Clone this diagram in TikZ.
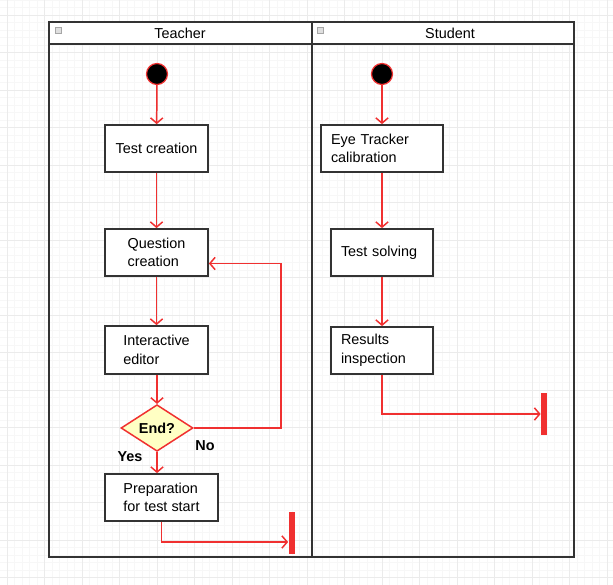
\documentclass[tikz,border=0pt]{standalone}
\usepackage{fontspec}
\setmainfont{Liberation Sans}
\usetikzlibrary{shapes.geometric,arrows.meta}
\definecolor{flowred}{HTML}{F03030}
\definecolor{boxgray}{HTML}{333333}
\definecolor{guardfill}{HTML}{FFFFC4}
\tikzset{
	flow/.style={draw=flowred, line width=0.85pt, -{Straight Barb[length=3pt,width=7pt]}},
	activity/.style={draw=boxgray, line width=1pt, fill=white, inner sep=0pt, minimum height=0.94cm, align=left, font=\fontsize{8.2}{10.6}\selectfont},
	leftact/.style={activity, inner xsep=0.2cm, text width=#1},
	startdot/.style={circle, draw=flowred, line width=0.7pt, fill=black, minimum size=0.42cm, inner sep=0pt},
	endbar/.style={rectangle, fill=flowred, minimum width=0.12cm, minimum height=0.84cm, inner sep=0pt},
	decision/.style={diamond, draw=flowred, line width=0.85pt, fill=guardfill, minimum width=1.44cm, minimum height=0.72cm, inner sep=0pt, font=\fontsize{8.2}{10}\selectfont\bfseries},
	guard/.style={font=\fontsize{8.2}{10}\selectfont\bfseries, inner sep=0pt},
	lanetitle/.style={font=\fontsize{8.2}{10}\selectfont, inner sep=0pt},
	lane/.style={draw=boxgray, line width=1pt},
}

\begin{document}
\begin{tikzpicture}[x=0.02cm, y=-0.02cm]
				\useasboundingbox (0,0) rectangle (613,585);
				\fill[white] (0,0) rectangle (613,585);
				
				% background grid
				\foreach \gx in {-0.5,7,...,613} \draw[gray!6, line width=0.3pt] (\gx,0) -- (\gx,585);
				\foreach \gy in {0,7.5,...,585} \draw[gray!6, line width=0.3pt] (0,\gy) -- (613,\gy);
				\foreach \gx in {7,44.5,...,613} \draw[gray!16, line width=0.4pt] (\gx,0) -- (\gx,585);
				\foreach \gy in {15,52.5,...,585} \draw[gray!16, line width=0.4pt] (0,\gy) -- (613,\gy);
				
				% swimlanes
				\fill[white] (49,22) rectangle (574,44);
				\draw[lane] (49,22) rectangle (574,557);
				\draw[lane] (49,44) -- (574,44);
				\draw[lane] (312,22) -- (312,557);
				\draw[draw=gray!70, fill=gray!25, line width=0.4pt] (55,27) rectangle (61.5,33);
				\draw[draw=gray!70, fill=gray!25, line width=0.4pt] (317,27) rectangle (323.5,33);
				\node[lanetitle] (teacherhd) at (180,33) {Teacher};
				\node[lanetitle] (studenthd) at (450,33) {Student};
				
				% teacher lane
				\node[startdot] (tStart) at (157,74) {};
				\node[activity, minimum width=2.06cm] (testc) at (156.5,148.5) {Test creation};
				\node[activity, minimum width=2.06cm] (quest) at (156.5,252.5) {Question\\creation};
				\node[activity, minimum width=2.06cm, minimum height=0.96cm] (inter) at (156.5,350) {Interactive\\editor};
				\node[decision] (decide) at (157,428) {End?};
				\node[activity, minimum width=2.26cm] (prep) at (161.5,497.5) {Preparation\\for test start};
				\node[endbar] (tEnd) at (291.5,533) {};
				\node[guard] (yeslbl) at (130,457) {Yes};
				\node[guard] (nolbl) at (205,446) {No};
				\coordinate (loopturn) at (281,428);
				
				\draw[flow] (tStart) -- (testc);
				\draw[flow] (testc) -- (quest);
				\draw[flow] (quest) -- (inter);
				\draw[flow] (inter.south -| decide.north) -- (decide.north);
				\draw[flow] (decide.south) -- (decide.south |- prep.north);
				\draw[flow] (decide.east) -- (loopturn) |- ([yshift=-0.22cm]quest.east);
				\draw[flow] (prep.south) |- ([yshift=-0.18cm]tEnd.west);
				
				% student lane
				\node[startdot] (sStart) at (382,74) {};
				\node[leftact=2.04cm] (calib) at (382,148.5) {Eye Tracker\\calibration};
				\node[leftact=1.64cm] (solve) at (382,252.5) {Test solving};
				\node[leftact=1.64cm] (result) at (382,350.5) {Results\\inspection};
				\node[endbar] (sEnd) at (544,414) {};
				
				\draw[flow] (sStart) -- (calib);
				\draw[flow] (calib) -- (solve);
				\draw[flow] (solve) -- (result);
				\draw[flow] (result.south) |- (sEnd.west);
\end{tikzpicture}
\end{document}
